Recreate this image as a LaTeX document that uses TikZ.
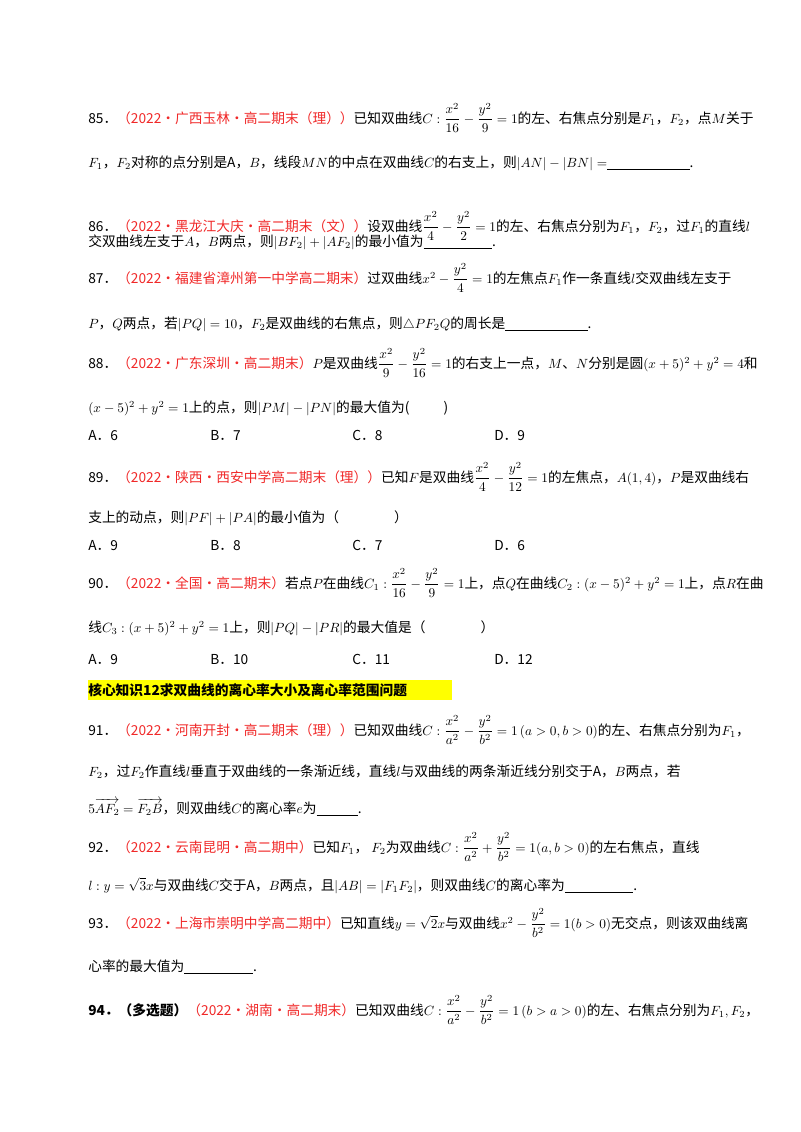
\documentclass[tikz,border=0pt]{standalone}
\usepackage{fontspec}
\usepackage{amsmath}
\setmainfont{Noto Sans CJK SC}
\definecolor{srcred}{RGB}{240,40,40}
\definecolor{hlyellow}{RGB}{255,255,0}
\newcommand{\src}[1]{\textcolor{srcred}{#1}}
\tikzset{
  line/.style={anchor=base west, inner sep=0pt, font=\fontsize{10.3}{12}\selectfont},
  opt/.style={line},
}
\begin{document}
\begin{tikzpicture}[x=0.75pt,y=-0.75pt]
\useasboundingbox (0,0) rectangle (800,1132);
% question 85
\node[line] (q85a) at (88,123) {85．\src{（2022·广西玉林·高二期末（理））}已知双曲线$C:\dfrac{x^2}{16}-\dfrac{y^2}{9}=1$的左、右焦点分别是$F_1$，$F_2$，点$M$关于};
\node[line] (q85b) at (88,167) {$F_1$，$F_2$对称的点分别是A，$B$，线段$MN$的中点在双曲线$C$的右支上，则$|AN|-|BN|=$\underline{\hspace{6em}}.};
% question 86
\node[line] (q86a) at (88,231) {86．\src{（2022·黑龙江大庆·高二期末（文））}设双曲线$\dfrac{x^2}{4}-\dfrac{y^2}{2}=1$的左、右焦点分别为$F_1$，$F_2$，过$F_1$的直线$l$};
\node[line] (q86b) at (88,246) {交双曲线左支于$A$，$B$两点，则$|BF_2|+|AF_2|$的最小值为\underline{\hspace{5em}}.};
% question 87
\node[line] (q87a) at (88,283) {87．\src{（2022·福建省漳州第一中学高二期末）}过双曲线$x^2-\dfrac{y^2}{4}=1$的左焦点$F_1$作一条直线$l$交双曲线左支于};
\node[line] (q87b) at (88,328) {$P$，$Q$两点，若$|PQ|=10$，$F_2$是双曲线的右焦点，则$\triangle PF_2Q$的周长是\underline{\hspace{6em}}.};
% question 88
\node[line] (q88a) at (88,368) {88．\src{（2022·广东深圳·高二期末）}$P$是双曲线$\dfrac{x^2}{9}-\dfrac{y^2}{16}=1$的右支上一点，$M$、$N$分别是圆$(x+5)^2+y^2=4$和};
\node[line] (q88b) at (88,412) {$(x-5)^2+y^2=1$上的点，则$|PM|-|PN|$的最大值为(\hspace{2.5em})};
\node[opt] (q88A) at (88,440) {A．6};
\node[opt] (q88B) at (210,440) {B．7};
\node[opt] (q88C) at (352,440) {C．8};
\node[opt] (q88D) at (494,440) {D．9};
% question 89
\node[line] (q89a) at (88,482) {89．\src{（2022·陕西·西安中学高二期末（理））}已知$F$是双曲线$\dfrac{x^2}{4}-\dfrac{y^2}{12}=1$的左焦点，$A(1,4)$，$P$是双曲线右};
\node[line] (q89b) at (88,522) {支上的动点，则$|PF|+|PA|$的最小值为（\hspace{4em}）};
\node[opt] (q89A) at (88,550) {A．9};
\node[opt] (q89B) at (210,550) {B．8};
\node[opt] (q89C) at (352,550) {C．7};
\node[opt] (q89D) at (494,550) {D．6};
% question 90
\node[line] (q90a) at (88,588) {90．\src{（2022·全国·高二期末）}若点$P$在曲线$C_1:\dfrac{x^2}{16}-\dfrac{y^2}{9}=1$上，点$Q$在曲线$C_2:(x-5)^2+y^2=1$上，点$R$在曲};
\node[line] (q90b) at (88,632) {线$C_3:(x+5)^2+y^2=1$上，则$|PQ|-|PR|$的最大值是（\hspace{4em}）};
\node[opt] (q90A) at (88,664) {A．9};
\node[opt] (q90B) at (210,664) {B．10};
\node[opt] (q90C) at (352,664) {C．11};
\node[opt] (q90D) at (494,664) {D．12};
% heading
\fill[hlyellow] (88,680) rectangle (452,700);
\node[line] (head) at (88,695) {\textbf{核心知识12求双曲线的离心率大小及离心率范围问题}};
% question 91
\node[line] (q91a) at (88,735) {91．\src{（2022·河南开封·高二期末（理））}已知双曲线$C:\dfrac{x^2}{a^2}-\dfrac{y^2}{b^2}=1\left(a>0,b>0\right)$的左、右焦点分别为$F_1$，};
\node[line] (q91b) at (88,776) {$F_2$，过$F_2$作直线$l$垂直于双曲线的一条渐近线，直线$l$与双曲线的两条渐近线分别交于A，$B$两点，若};
\node[line] (q91c) at (88,813) {$5\overrightarrow{AF_2}=\overrightarrow{F_2B}$，则双曲线$C$的离心率$e$为\underline{\hspace{3em}}.};
% question 92
\node[line] (q92a) at (88,852) {92．\src{（2022·云南昆明·高二期中）}已知$F_1$，\ $F_2$为双曲线$C:\dfrac{x^2}{a^2}+\dfrac{y^2}{b^2}=1(a,b>0)$的左右焦点，直线};
\node[line] (q92b) at (88,890) {$l:y=\sqrt{3}x$与双曲线$C$交于A，$B$两点，且$|AB|=|F_1F_2|$，则双曲线$C$的离心率为\underline{\hspace{5em}}.};
% question 93
\node[line] (q93a) at (88,928) {93．\src{（2022·上海市崇明中学高二期中）}已知直线$y=\sqrt{2}x$与双曲线$x^2-\dfrac{y^2}{b^2}=1(b>0)$无交点，则该双曲线离};
\node[line] (q93b) at (88,971) {心率的最大值为\underline{\hspace{5em}}.};
% question 94
\node[line] (q94a) at (88,1015) {\textbf{94．（多选题）}\src{（2022·湖南·高二期末）}已知双曲线$C:\dfrac{x^2}{a^2}-\dfrac{y^2}{b^2}=1\left(b>a>0\right)$的左、右焦点分别为$F_1,F_2$，};
\end{tikzpicture}
\end{document}
